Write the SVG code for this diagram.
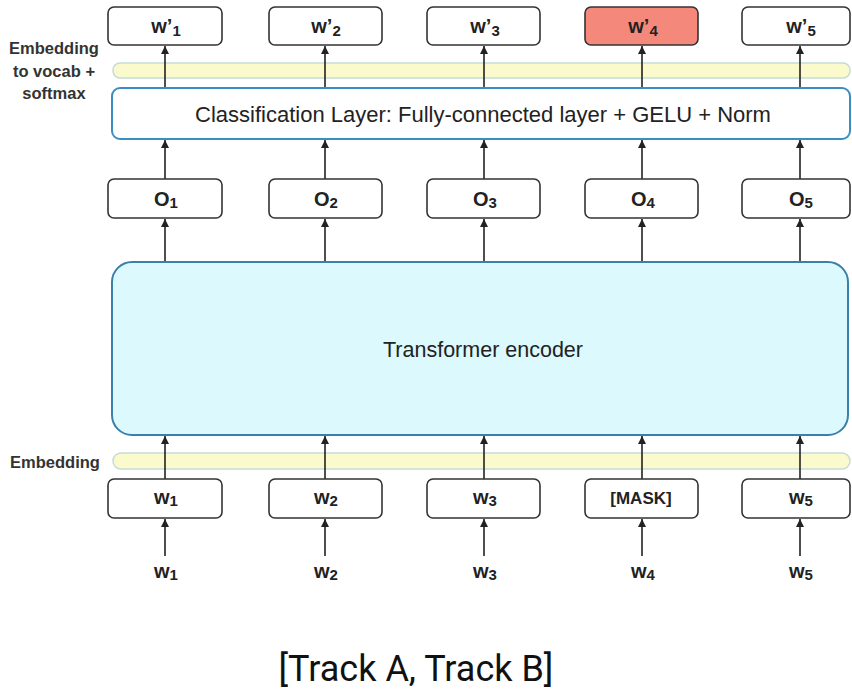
<svg xmlns="http://www.w3.org/2000/svg" width="852" height="690" viewBox="0 0 852 690">
<style>
.box{fill:#fff;stroke:#333;stroke-width:1.6}
.hl{fill:#f4887b}
.band{fill:#fafacd;stroke:#c6dbd6;stroke-width:1.5}
.lbl{font-family:"Liberation Sans",Arial,sans-serif;font-weight:bold;font-size:20px;fill:#222;text-anchor:middle}
.side{font-family:"Liberation Sans",Arial,sans-serif;font-weight:bold;font-size:16.5px;fill:#333;text-anchor:middle}
.big{font-family:"Liberation Sans",Arial,sans-serif;fill:#222;text-anchor:middle}
.sub{font-size:15px}
.arr{stroke:#222;stroke-width:1.6;fill:none;marker-end:url(#ah)}
</style>
<defs>
<marker id="ah" markerUnits="userSpaceOnUse" markerWidth="9" markerHeight="9" refX="8" refY="4" orient="auto">
<path d="M0,0 L8,4 L0,8 z" fill="#222"/>
</marker>
</defs>
<rect width="852" height="690" fill="#fff"/>

<g id="side-labels">
<text class="side" x="54" y="54">Embedding</text>
<text class="side" x="54" y="77">to vocab +</text>
<text class="side" x="54" y="99">softmax</text>
<text class="side" x="55" y="468">Embedding</text>
</g>

<g id="band-top"><rect class="band" x="113" y="63" width="737" height="15" rx="7"/></g>
<g id="band-bottom"><rect class="band" x="113" y="453" width="737" height="16" rx="8"/></g>

<g id="connectors">
<line class="arr" x1="165" y1="88" x2="165" y2="46"/>
<line class="arr" x1="325" y1="88" x2="325" y2="46"/>
<line class="arr" x1="484" y1="88" x2="484" y2="46"/>
<line class="arr" x1="642" y1="88" x2="642" y2="46"/>
<line class="arr" x1="800" y1="88" x2="800" y2="46"/>

<line class="arr" x1="165" y1="179" x2="165" y2="140"/>
<line class="arr" x1="325" y1="179" x2="325" y2="140"/>
<line class="arr" x1="484" y1="179" x2="484" y2="140"/>
<line class="arr" x1="642" y1="179" x2="642" y2="140"/>
<line class="arr" x1="800" y1="179" x2="800" y2="140"/>

<line class="arr" x1="165" y1="262" x2="165" y2="219"/>
<line class="arr" x1="325" y1="262" x2="325" y2="219"/>
<line class="arr" x1="484" y1="262" x2="484" y2="219"/>
<line class="arr" x1="642" y1="262" x2="642" y2="219"/>
<line class="arr" x1="800" y1="262" x2="800" y2="219"/>

<line class="arr" x1="165" y1="479" x2="165" y2="436"/>
<line class="arr" x1="325" y1="479" x2="325" y2="436"/>
<line class="arr" x1="484" y1="479" x2="484" y2="436"/>
<line class="arr" x1="642" y1="479" x2="642" y2="436"/>
<line class="arr" x1="800" y1="479" x2="800" y2="436"/>

<line class="arr" x1="165" y1="556" x2="165" y2="519"/>
<line class="arr" x1="325" y1="556" x2="325" y2="519"/>
<line class="arr" x1="484" y1="556" x2="484" y2="519"/>
<line class="arr" x1="642" y1="556" x2="642" y2="519"/>
<line class="arr" x1="800" y1="556" x2="800" y2="519"/>
</g>

<g id="classification">
<rect x="112" y="88" width="738" height="51" rx="8" fill="#fff" stroke="#3b8dc2" stroke-width="2"/>
<text class="big" x="483" y="122" font-size="22">Classification Layer: Fully-connected layer + GELU + Norm</text>
</g>

<g id="encoder">
<rect x="112" y="262" width="736" height="173" rx="20" fill="#dcf9fd" stroke="#3a80aa" stroke-width="2"/>
<text class="big" x="483" y="357" font-size="21.5">Transformer encoder</text>
</g>

<g id="out1"><rect class="box" x="108" y="7" width="114" height="38" rx="6"/><text class="lbl" x="166" y="33">w’<tspan class="sub" dy="3">1</tspan></text></g>
<g id="out2"><rect class="box" x="269" y="7" width="113" height="38" rx="6"/><text class="lbl" x="326" y="33">w’<tspan class="sub" dy="3">2</tspan></text></g>
<g id="out3"><rect class="box" x="427" y="7" width="113" height="38" rx="6"/><text class="lbl" x="485" y="33">w’<tspan class="sub" dy="3">3</tspan></text></g>
<g id="out4"><rect class="box hl" x="585" y="7" width="113" height="38" rx="6"/><text class="lbl" x="643" y="33">w’<tspan class="sub" dy="3">4</tspan></text></g>
<g id="out5"><rect class="box" x="742" y="7" width="108" height="38" rx="6"/><text class="lbl" x="801" y="33">w’<tspan class="sub" dy="3">5</tspan></text></g>

<g id="o1"><rect class="box" x="108" y="179" width="114" height="39" rx="6"/><text class="lbl" x="166" y="206">O<tspan class="sub" dy="2">1</tspan></text></g>
<g id="o2"><rect class="box" x="269" y="179" width="113" height="39" rx="6"/><text class="lbl" x="326" y="206">O<tspan class="sub" dy="2">2</tspan></text></g>
<g id="o3"><rect class="box" x="427" y="179" width="113" height="39" rx="6"/><text class="lbl" x="485" y="206">O<tspan class="sub" dy="2">3</tspan></text></g>
<g id="o4"><rect class="box" x="585" y="179" width="113" height="39" rx="6"/><text class="lbl" x="643" y="206">O<tspan class="sub" dy="2">4</tspan></text></g>
<g id="o5"><rect class="box" x="742" y="179" width="108" height="39" rx="6"/><text class="lbl" x="801" y="206">O<tspan class="sub" dy="2">5</tspan></text></g>

<g id="in1"><rect class="box" x="108" y="479" width="114" height="39" rx="6"/><text class="lbl" x="166" y="504">w<tspan class="sub" dy="2">1</tspan></text></g>
<g id="in2"><rect class="box" x="269" y="479" width="113" height="39" rx="6"/><text class="lbl" x="326" y="504">w<tspan class="sub" dy="2">2</tspan></text></g>
<g id="in3"><rect class="box" x="427" y="479" width="113" height="39" rx="6"/><text class="lbl" x="485" y="504">w<tspan class="sub" dy="2">3</tspan></text></g>
<g id="in4"><rect class="box" x="585" y="479" width="113" height="39" rx="6"/><text class="lbl" x="641" y="504" style="font-size:17px">[MASK]</text></g>
<g id="in5"><rect class="box" x="742" y="479" width="108" height="39" rx="6"/><text class="lbl" x="801" y="504">w<tspan class="sub" dy="2">5</tspan></text></g>

<g id="tokens">
<text class="lbl" x="166" y="578">w<tspan class="sub" dy="2">1</tspan></text>
<text class="lbl" x="326" y="578">w<tspan class="sub" dy="2">2</tspan></text>
<text class="lbl" x="485" y="578">w<tspan class="sub" dy="2">3</tspan></text>
<text class="lbl" x="643" y="578">w<tspan class="sub" dy="2">4</tspan></text>
<text class="lbl" x="801" y="578">w<tspan class="sub" dy="2">5</tspan></text>
</g>

<g id="caption">
<text x="416" y="681" font-family="Roboto,sans-serif" font-size="36" fill="#111" text-anchor="middle">[Track A, Track B]</text>
</g>
</svg>
